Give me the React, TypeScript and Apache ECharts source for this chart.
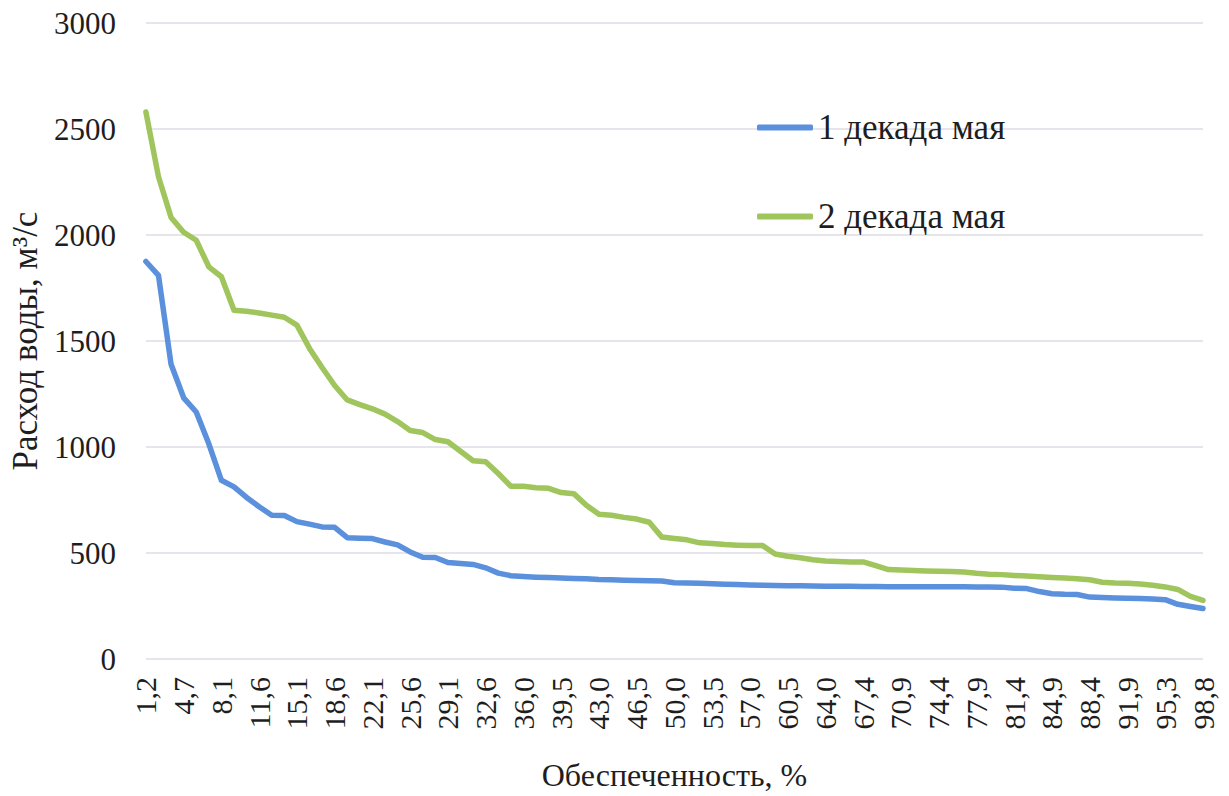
import React, { useEffect, useRef } from "react";
import * as echarts from "echarts";

const categories: string[] = [
  "1,2", "2,3", "3,5", "4,7", "5,8", "7,0", "8,1", "9,3", "10,5", "11,6",
  "12,8", "14,0", "15,1", "16,3", "17,4", "18,6", "19,8", "20,9", "22,1", "23,3",
  "24,4", "25,6", "26,7", "27,9", "29,1", "30,2", "31,4", "32,6", "33,7", "34,9",
  "36,0", "37,2", "38,4", "39,5", "40,7", "41,9", "43,0", "44,2", "45,3", "46,5",
  "47,7", "48,8", "50,0", "51,2", "52,3", "53,5", "54,7", "55,8", "57,0", "58,1",
  "59,3", "60,5", "61,6", "62,8", "64,0", "65,1", "66,3", "67,4", "68,6", "69,8",
  "70,9", "72,1", "73,3", "74,4", "75,6", "76,7", "77,9", "79,1", "80,2", "81,4",
  "82,6", "83,7", "84,9", "86,0", "87,2", "88,4", "89,5", "90,7", "91,9", "93,0",
  "94,2", "95,3", "96,5", "97,7", "98,8",
];

const decade1: number[] = [
  1875, 1810, 1390, 1232, 1165, 1015, 843, 812, 762, 718,
  678, 677, 648, 636, 623, 621, 572, 570, 568, 552,
  538, 505, 480, 479, 455, 450, 446, 430, 405, 393,
  389, 386, 384, 382, 380, 378, 375, 374, 372, 370,
  369, 368, 360, 358, 357, 355, 353, 351, 349, 348,
  347, 346, 345, 344, 343, 343, 343, 342, 342, 341,
  341, 341, 341, 341, 341, 341, 340, 340, 339, 334,
  332, 318, 308, 305, 304, 292, 290, 288, 286, 285,
  283, 280, 258, 248, 238,
];

const decade2: number[] = [
  2580, 2275, 2083, 2013, 1975, 1850, 1803, 1645, 1640, 1632,
  1622, 1612, 1575, 1465, 1375, 1290, 1222, 1200, 1180, 1155,
  1120, 1078, 1068, 1035, 1025, 980, 935, 930, 875, 815,
  815, 808, 805, 785, 780, 725, 683, 678, 668, 660,
  645, 575, 568, 562, 548, 545, 540, 537, 535, 535,
  495, 485, 478, 468, 462, 460, 458, 458, 440, 422,
  420, 417, 415, 414, 413, 410, 404, 400, 398, 394,
  391, 388, 385, 382, 378, 374, 362, 358, 357, 354,
  348, 340, 328, 295, 276,
];

const seriesNames: string[] = ["1 декада мая", "2 декада мая"];
const xTitle = "Обеспеченность, %";
const yTitle = "Расход воды, м³/с";

const FONT = "'Liberation Serif', 'Times New Roman', serif";
const TEXT = "#1e1e1e";

export default function App() {
  const ref = useRef<HTMLDivElement>(null);

  useEffect(() => {
    if (!ref.current) return;
    const chart = echarts.init(ref.current, undefined, { renderer: "svg" });
    chart.setOption({
      animation: false,
      backgroundColor: "#ffffff",
      textStyle: { fontFamily: FONT, color: TEXT },
      grid: { left: 142, right: 26, top: 23, bottom: 134, containLabel: false },
      legend: {
        orient: "vertical",
        left: 752,
        top: 105,
        itemWidth: 56,
        itemHeight: 6,
        itemGap: 54,
        icon: "roundRect",
        textStyle: { fontFamily: FONT, fontSize: 35, color: TEXT },
        data: seriesNames,
      },
      xAxis: {
        type: "category",
        data: categories,
        boundaryGap: false,
        axisLine: { show: false },
        axisTick: { show: false },
        axisLabel: {
          interval: 2,
          rotate: 90,
          margin: 18,
          fontFamily: FONT,
          fontSize: 30,
          color: TEXT,
        },
        name: xTitle,
        nameLocation: "middle",
        nameGap: 100,
        nameTextStyle: { fontFamily: FONT, fontSize: 32, color: TEXT },
      },
      yAxis: {
        type: "value",
        min: 0,
        max: 3000,
        interval: 500,
        axisLine: { show: false },
        axisTick: { show: false },
        axisLabel: {
          margin: 30,
          fontFamily: FONT,
          fontSize: 31,
          color: TEXT,
          formatter: (v: number) => String(v),
        },
        splitLine: { lineStyle: { color: "#dcdce4", width: 1.5 } },
        name: yTitle,
        nameLocation: "middle",
        nameGap: 98,
        nameTextStyle: { fontFamily: FONT, fontSize: 35, color: TEXT },
      },
      series: [
        {
          name: seriesNames[0],
          type: "line",
          data: decade1,
          showSymbol: false,
          symbol: "none",
          lineStyle: { color: "#5a90dc", width: 5.5, cap: "round", join: "round" },
          itemStyle: { color: "#5a90dc" },
        },
        {
          name: seriesNames[1],
          type: "line",
          data: decade2,
          showSymbol: false,
          symbol: "none",
          lineStyle: { color: "#9fc55c", width: 5.5, cap: "round", join: "round" },
          itemStyle: { color: "#9fc55c" },
        },
      ],
    });
    return () => chart.dispose();
  }, []);

  return (
    <div
      ref={ref}
      style={{ position: "fixed", left: 0, top: 0, width: 1229, height: 796, background: "#fff" }}
    />
  );
}
